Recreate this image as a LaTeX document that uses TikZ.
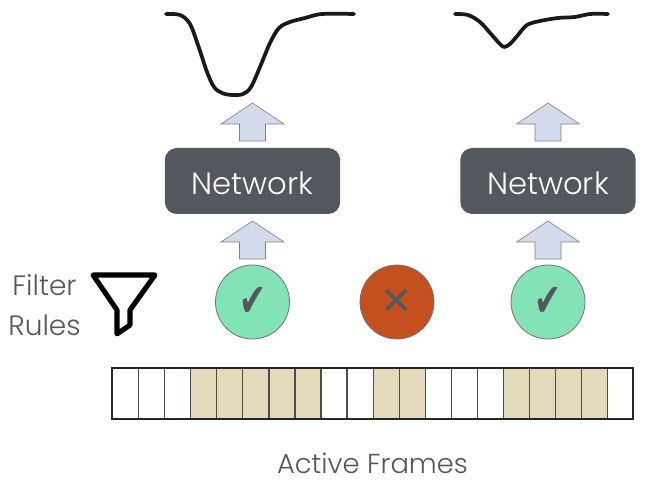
\documentclass[tikz,border=0pt]{standalone}
\usepackage{fontspec}
\usepackage{graphicx}
\setmainfont{Poppins Light}
\newfontfamily\symf{DejaVu Sans}
\usetikzlibrary{calc}
\definecolor{ink}{HTML}{53575E}
\definecolor{okc}{HTML}{84E3B6}
\definecolor{noc}{HTML}{C4501F}
\definecolor{tan}{HTML}{E5D9BC}
\definecolor{arr}{HTML}{D2DAEC}
\tikzset{
  netbox/.style={draw=none,fill=ink,rounded corners=9pt,minimum width=131.5pt,minimum height=49.5pt,inner sep=0pt,text=white,font=\fontsize{23}{23}\selectfont,text height=20pt,text depth=0pt},
  state/.style={circle,draw=black!55,line width=.6pt,minimum size=55.5pt,inner sep=0pt,text=ink},
  label/.style={text=ink,align=center,inner sep=0pt},
  cell/.style={draw=black!70,line width=.9pt,minimum width=19.54pt,minimum height=38.25pt,inner sep=0pt,anchor=north west},
  blockarrow/.style={draw=black!50,line width=.5pt,fill=arr,line join=miter},
  curve/.style={draw=black!90,line width=2.8pt,line cap=round,line join=round},
  funnel/.style={draw=black,line width=3.8pt,line join=round,line cap=round}
}
\newcommand{\upblock}[1]{\draw[blockarrow] ($(#1)+(0,-19)$) -- ++(31.5,21) -- ++(-18.5,0) -- ++(0,17) -- ++(-26,0) -- ++(0,-17) -- ++(-18.5,0) -- cycle;}
\newcommand{\okmark}{\symf\fontsize{21}{21}\selectfont\scalebox{1.15}[1.65]{✔}}
\begin{document}
\begin{tikzpicture}[x=.75pt,y=-.75pt]
\useasboundingbox (0,0) rectangle (649,484);
% frames
\foreach \i in {0,...,19}{
  \pgfmathsetmacro{\xx}{112+26.05*\i}
  \node[cell,fill=white] (f\i) at (\xx,368) {};
}
\foreach \i in {3,4,5,6,7,10,11,15,16,17,18}{
  \pgfmathsetmacro{\xx}{112+26.05*\i}
  \node[cell,fill=tan] (g\i) at (\xx,368) {};
}
\draw[black!85,line width=1pt] (112,368) rectangle (633,419);
% circles
\node[state,fill=okc] (s1) at (252.5,302) {\okmark};
\node[state,fill=noc] (s2) at (397,302) {\symf\fontsize{29}{29}\selectfont ✕};
\node[state,fill=okc] (s3) at (548,302) {\okmark};
% networks
\node[netbox] (n1) at (252.5,181) {Network};
\node[netbox] (n2) at (548,181) {Network};
% arrows
\coordinate (a1) at (252.5,122);
\coordinate (a2) at (548,122);
\coordinate (a3) at (252.5,240);
\coordinate (a4) at (548,240);
\upblock{a1}\upblock{a2}\upblock{a3}\upblock{a4}
% curves
\draw[curve] plot[smooth,tension=.55] coordinates {(166,14)(180,15)(190,24)(199,48)(207,72)(214,87)(222,93)(232,95)(243,94)(251,87)(260,67)(270,43)(279,28)(290,22)(305,18)(322,14)(354,14)};
\draw[curve] plot[smooth,tension=.55] coordinates {(455,14)(468,15)(480,22)(491,34)(499,43)(504,47)(510,44)(518,35)(527,25)(540,21)(558,18)(575,17)(590,14)(608,14)};
% funnel
\draw[funnel] (93,275) -- (155,275) -- (130,310) -- (130,325) -- (117,334) -- (117,310) -- cycle;
% labels
\node[label,font=\fontsize{21}{30}\selectfont] (fr) at (44.5,305) {Filter\\Rules};
\node[label,font=\fontsize{20.5}{24}\selectfont] (af) at (372.5,463) {Active Frames};
\end{tikzpicture}
\end{document}
